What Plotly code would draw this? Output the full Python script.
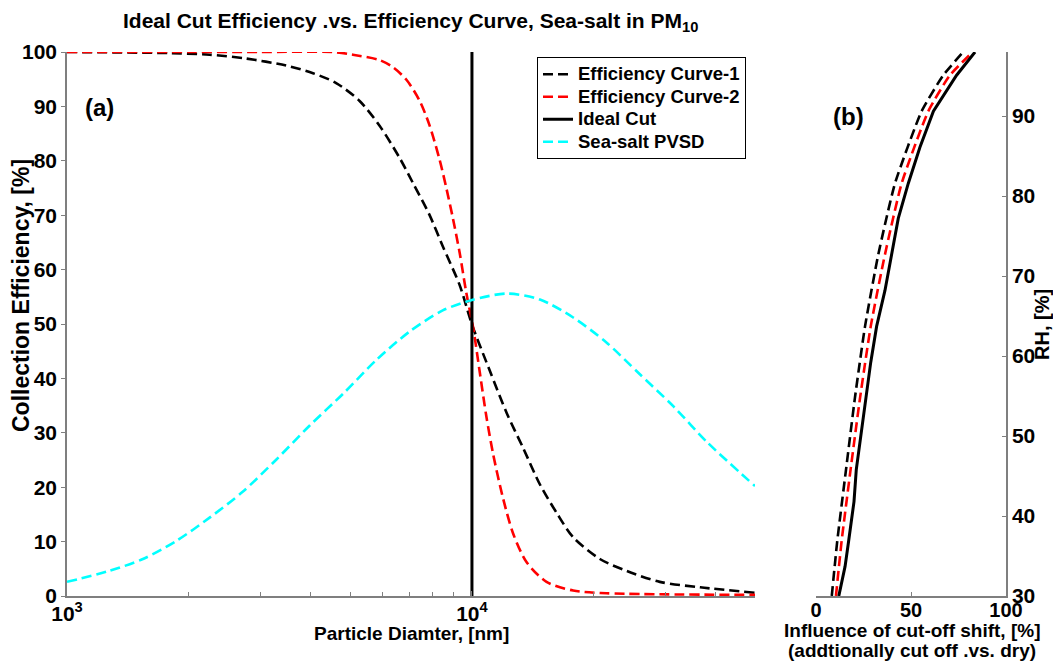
import plotly.graph_objects as go

# ---------------- Panel (a) data ----------------
d_curve1 = [1000, 1790, 2250, 2770, 3480, 4050, 4620, 5280, 5920, 6620, 7140, 7850,
            8470, 9330, 10000, 11070, 12190, 13400, 14720, 16180, 17780, 20700,
            24100, 29100, 36600, 50000]
eff_curve1 = [100, 99.8, 99.5, 98.8, 97.5, 96.1, 94.3, 91.0, 86.4, 80.6, 76.0, 70.1,
              64.3, 57.1, 49.9, 41.4, 33.6, 27.1, 20.5, 15.3, 10.8, 6.8,
              4.6, 2.6, 1.6, 0.6]

d_curve2 = [1000, 2000, 3000, 4540, 5080, 5920, 6380, 6890, 7430, 7850, 8320, 8650,
            8970, 9330, 9680, 10070, 10470, 10860, 11300, 11940, 12650, 13650,
            15280, 17780, 21480, 50000]
eff_curve2 = [100, 100, 100, 100, 99.5, 98.5, 97.2, 94.9, 91.0, 86.6, 80.2, 74.9,
              69.5, 63.0, 55.8, 49.3, 40.8, 32.9, 25.8, 17.9, 11.4, 6.2,
              2.6, 1.0, 0.5, 0.2]

d_ideal = [10000, 10000]
eff_ideal = [0, 100]

d_seasalt = [1000, 1270, 1540, 1860, 2250, 2720, 3290, 3970, 4810, 5810, 7010,
             8470, 10000, 12190, 14720, 17780, 21480, 25940, 31410, 37930, 50000]
pvsd_seasalt = [2.6, 4.6, 6.8, 10.1, 14.4, 19.2, 25.1, 31.3, 37.2, 43.4, 48.6,
                52.5, 54.4, 55.6, 54.5, 51.2, 46.6, 40.8, 34.9, 28.4, 20.2]

# ---------------- Panel (b) data ----------------
rh_ideal = [30, 33.7, 36.9, 41.8, 45.8, 50.3, 54.8, 59.2, 63.7, 68.2, 72.7, 77.2,
            81.6, 86.1, 90.6, 95.1, 98]
shift_ideal = [12.0, 15.3, 17.2, 20.0, 21.2, 23.7, 26.3, 28.8, 31.9, 36.3, 39.8, 43.3,
               48.6, 54.7, 61.8, 74.0, 83.7]

rh_curves = [30, 36.9, 45.8, 54.8, 63.7, 72.7, 81.6, 90.6, 95.1, 98]
shift_curve1 = [8.3, 11.2, 15.8, 20.5, 25.8, 32.8, 41.6, 55.6, 67.0, 77.5]
shift_curve2 = [10.5, 13.5, 18.2, 23.2, 28.8, 36.3, 45.1, 59.1, 70.5, 82.5]

legend_names = ["Efficiency Curve-1", "Efficiency Curve-2", "Ideal Cut", "Sea-salt PVSD"]

x_major_ticks = [1000, 10000]
x_major_text = ["10<sup>3</sup>", "10<sup>4</sup>"]
x_minor_ticks = [2000, 3000, 4000, 5000, 6000, 7000, 8000, 9000,
                 20000, 30000, 40000, 50000]
y_ticks_a = [0, 10, 20, 30, 40, 50, 60, 70, 80, 90, 100]
x_ticks_b = [0, 50, 100]
y_ticks_b = [30, 40, 50, 60, 70, 80, 90]

W, H = 1053, 661
DASH = "10px,5px"
LW = 2.6
AXC = "#7f7f7f"
FONT = "Liberation Sans, Arial, Helvetica, sans-serif"


def lname(s):
    return '<span style="font-size:18.5px">' + s + "</span>"


fig = go.Figure()
fig.add_trace(go.Scatter(x=d_curve1, y=eff_curve1, mode="lines", name=lname(legend_names[0]),
                         line=dict(color="black", width=LW, dash=DASH, shape="spline", smoothing=0.8)))
fig.add_trace(go.Scatter(x=d_curve2, y=eff_curve2, mode="lines", name=lname(legend_names[1]),
                         line=dict(color="#ff0000", width=LW, dash=DASH, shape="spline", smoothing=0.8)))
fig.add_trace(go.Scatter(x=d_ideal, y=eff_ideal, mode="lines", name=lname(legend_names[2]),
                         line=dict(color="black", width=3)))
fig.add_trace(go.Scatter(x=d_seasalt, y=pvsd_seasalt, mode="lines", name=lname(legend_names[3]),
                         line=dict(color="#00ffff", width=LW, dash=DASH, shape="spline", smoothing=0.8)))

fig.add_trace(go.Scatter(x=shift_curve1, y=rh_curves, mode="lines", showlegend=False,
                         xaxis="x2", yaxis="y2",
                         line=dict(color="black", width=LW, dash=DASH, shape="spline", smoothing=0.5)))
fig.add_trace(go.Scatter(x=shift_curve2, y=rh_curves, mode="lines", showlegend=False,
                         xaxis="x2", yaxis="y2",
                         line=dict(color="#ff0000", width=LW, dash=DASH, shape="spline", smoothing=0.5)))
fig.add_trace(go.Scatter(x=shift_ideal, y=rh_ideal, mode="lines", showlegend=False,
                         xaxis="x2", yaxis="y2",
                         line=dict(color="black", width=3)))

ydom = [1 - 596 / H, 1 - 52 / H]


def tf(size):
    return dict(family=FONT, size=size, color="black", weight="bold")


fig.update_layout(
    template="none",
    width=W, height=H,
    margin=dict(l=0, r=0, t=0, b=0, pad=0),
    paper_bgcolor="white", plot_bgcolor="white",
    font=dict(family=FONT, color="black"),
    showlegend=True,
    legend=dict(x=537 / W, y=1 - 57 / H, xanchor="left", yanchor="top",
                bgcolor="white", bordercolor="black", borderwidth=1,
                font=tf(15), tracegroupgap=0, itemwidth=30),
    xaxis=dict(domain=[67 / W, 755 / W], type="log", range=[3, 4.69897], automargin=False,
               showgrid=False, zeroline=False, showline=True, linecolor=AXC, linewidth=1.5,
               ticks="inside", ticklen=5, tickcolor=AXC,
               tickvals=x_major_ticks, ticktext=x_major_text, tickfont=tf(21),
               ticklabelstandoff=-2,
               minor=dict(tickvals=x_minor_ticks, ticks="inside", ticklen=4, tickcolor=AXC,
                          showgrid=False),
               anchor="y"),
    yaxis=dict(domain=ydom, range=[0, 100], automargin=False, showgrid=False, zeroline=False,
               showline=True, linecolor=AXC, linewidth=1.5,
               ticks="outside", ticklen=4, tickcolor=AXC, tickvals=y_ticks_a,
               tickfont=tf(21), anchor="x"),
    xaxis2=dict(domain=[816 / W, 1006 / W], range=[0, 100], automargin=False,
                showgrid=False, zeroline=False,
                showline=True, linecolor=AXC, linewidth=1.5,
                ticks="inside", ticklen=4, tickcolor=AXC, tickvals=x_ticks_b,
                tickfont=tf(20), ticklabelstandoff=-5, anchor="y2"),
    yaxis2=dict(domain=ydom, range=[30, 98], side="right", automargin=False,
                showgrid=False, zeroline=False,
                showline=True, linecolor=AXC, linewidth=1.5,
                ticks="inside", ticklen=4, tickcolor=AXC, tickvals=y_ticks_b,
                tickfont=tf(21), anchor="x2"),
)


def note(text, x, y, size, angle=0):
    return dict(text="<b>" + text + "</b>", x=x / W, y=1 - y / H, xref="paper", yref="paper",
                xanchor="center", yanchor="middle", showarrow=False, textangle=angle,
                font=dict(family=FONT, size=size, color="black"))


ann = [
    note("Ideal Cut Efficiency .vs. Efficiency Curve, Sea-salt in PM<sub>10</sub>", 410, 22, 21),
    note("Particle Diamter, [nm]", 411, 633, 19),
    note("Influence of cut-off shift, [%]", 912, 630, 19),
    note("(addtionally cut off .vs. dry)", 912, 650, 19),
    note("Collection Efficiency, [%]", 21, 296, 23, -90),
    note("RH, [%]", 1042, 325, 20, -90),
    note("(a)", 99, 107, 24),
    note("(b)", 848, 117, 24),
]
fig.update_layout(annotations=ann)

fig.write_html("out.html")
